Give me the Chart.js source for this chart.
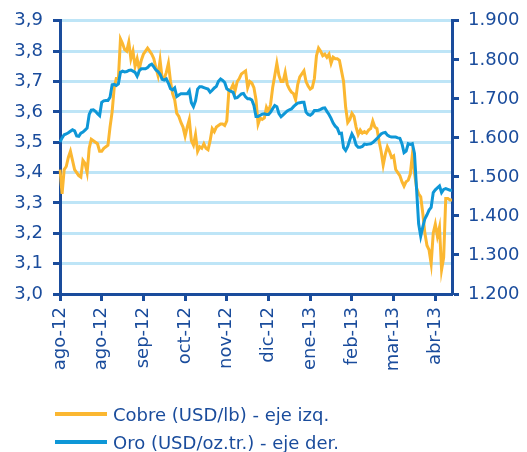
<!DOCTYPE html>
<html>
<head>
<meta charset="utf-8">
<script src="https://cdn.jsdelivr.net/npm/chart.js@4.4.1/dist/chart.umd.min.js"></script>
<style>
  html, body { margin: 0; padding: 0; background: #fff; }
  #wrap { position: relative; width: 527px; height: 452px; }
  #legend { position: absolute; left: 55px; top: 400px; font: 18px 'DejaVu Sans', sans-serif; color: #1A4C9C; }
  .item { display: flex; align-items: center; height: 28px; white-space: nowrap; }
  .swatch { width: 52px; height: 4px; margin-right: 6px; }
</style>
</head>
<body>
<div id="wrap">
  <canvas id="chart" width="527" height="452"></canvas>
  <div id="legend"></div>
</div>
<script>
// ── Data ─────────────────────────────────────────────────────────────────────

const MONTH_LABELS = ['ago-12', 'ago-12', 'sep-12', 'oct-12', 'nov-12', 'dic-12', 'ene-13', 'feb-13', 'mar-13', 'abr-13'];
const LABEL_STEP = 20; // one month label every 20 trading days

// Cobre, USD/lb (left axis)
const COBRE = [
    3.41, 3.33, 3.41, 3.42, 3.45, 3.47, 3.44, 3.41, 3.40, 3.39,
    3.385, 3.44, 3.43, 3.40, 3.48, 3.51, 3.505, 3.50, 3.495, 3.47,
    3.47, 3.48, 3.485, 3.49, 3.55, 3.60, 3.68, 3.71, 3.71, 3.84,
    3.825, 3.805, 3.80, 3.83, 3.775, 3.80, 3.75, 3.775, 3.74, 3.77,
    3.79, 3.80, 3.81, 3.80, 3.79, 3.775, 3.745, 3.72, 3.77, 3.71,
    3.71, 3.73, 3.76, 3.70, 3.66, 3.64, 3.595, 3.585, 3.565, 3.55,
    3.52, 3.55, 3.575, 3.505, 3.49, 3.525, 3.47, 3.485, 3.48, 3.495,
    3.48, 3.475, 3.505, 3.545, 3.535, 3.55, 3.555, 3.56, 3.56, 3.555,
    3.57, 3.67, 3.675, 3.69, 3.67, 3.70, 3.71, 3.725, 3.73, 3.735,
    3.68, 3.70, 3.695, 3.68, 3.64, 3.56, 3.58, 3.575, 3.58, 3.615,
    3.60, 3.625, 3.68, 3.72, 3.76, 3.72, 3.70, 3.70, 3.73, 3.69,
    3.675, 3.665, 3.66, 3.64, 3.69, 3.715, 3.725, 3.735, 3.70, 3.685,
    3.675, 3.68, 3.71, 3.785, 3.81, 3.80, 3.785, 3.79, 3.78, 3.79,
    3.76, 3.78, 3.775, 3.775, 3.77, 3.735, 3.70, 3.615, 3.565, 3.575,
    3.595, 3.585, 3.55, 3.525, 3.54, 3.53, 3.535, 3.53, 3.54, 3.545,
    3.57, 3.55, 3.545, 3.505, 3.47, 3.425, 3.46, 3.485, 3.47, 3.45,
    3.455, 3.41, 3.40, 3.39, 3.37, 3.355, 3.37, 3.375, 3.395, 3.46,
    3.40, 3.35, 3.33, 3.32, 3.265, 3.20, 3.16, 3.145, 3.10, 3.20,
    3.23, 3.19, 3.22, 3.08, 3.12, 3.315, 3.315, 3.31, 3.31
];

// Oro, USD/oz.tr. (right axis)
const ORO = [
    1589, 1600, 1608, 1610, 1613, 1617, 1621, 1618, 1605, 1604,
    1612, 1615, 1620, 1625, 1660, 1671, 1672, 1668, 1662, 1657,
    1691, 1695, 1696, 1696, 1704, 1736, 1737, 1734, 1738, 1768,
    1771, 1769, 1770, 1773, 1774, 1771, 1768, 1758, 1772, 1777,
    1777, 1777, 1780, 1786, 1789, 1782, 1774, 1770, 1763, 1750,
    1748, 1751, 1740, 1726, 1723, 1728, 1706, 1710, 1713, 1713,
    1713, 1713, 1721, 1690, 1680, 1695, 1725, 1731, 1731, 1729,
    1727, 1725, 1717, 1722, 1728, 1732, 1745, 1751, 1747, 1742,
    1726, 1722, 1719, 1717, 1702, 1703, 1708, 1713, 1714, 1705,
    1700, 1700, 1697, 1683, 1655, 1655, 1658, 1661, 1662, 1660,
    1660, 1666, 1675, 1683, 1680, 1662, 1654, 1659, 1664, 1669,
    1672, 1674, 1680, 1685, 1689, 1690, 1691, 1691, 1666, 1660,
    1658, 1662, 1670, 1670, 1671, 1673, 1676, 1677, 1668, 1660,
    1650, 1638, 1630, 1625, 1611, 1612, 1575, 1568, 1578, 1595,
    1610, 1600, 1582, 1576, 1576, 1578, 1584, 1583, 1584, 1585,
    1588, 1593, 1598, 1604, 1610, 1613, 1614, 1607, 1604, 1602,
    1602, 1602, 1600, 1599, 1585, 1562, 1566, 1585, 1583, 1585,
    1560, 1470, 1380, 1348, 1372, 1393, 1403, 1415, 1422, 1460,
    1467, 1472, 1477, 1460, 1468, 1470, 1468, 1466, 1466
];

const SERIES_NAMES = ['Cobre (USD/lb) - eje izq.', 'Oro (USD/oz.tr.) - eje der.'];

// ── Style ────────────────────────────────────────────────────────────────────

const ORANGE = '#FBB731';
const BLUE = '#0E97D7';
const AXIS_BLUE = '#1A4C9C';
const GRID_BLUE = '#BEE5F7';
const FONT = { size: 18, family: "'DejaVu Sans', sans-serif" };

Chart.defaults.font.family = FONT.family;
Chart.defaults.color = AXIS_BLUE;

const labels = COBRE.map((_, i) => (i % LABEL_STEP === 0 ? MONTH_LABELS[i / LABEL_STEP] : ''));

new Chart(document.getElementById('chart'), {
    type: 'line',
    data: {
        labels: labels,
        datasets: [
            {
                label: SERIES_NAMES[0],
                data: COBRE,
                yAxisID: 'yL',
                borderColor: ORANGE,
                borderWidth: 3,
                pointRadius: 0,
                tension: 0,
                order: 1
            },
            {
                label: SERIES_NAMES[1],
                data: ORO,
                yAxisID: 'yR',
                borderColor: BLUE,
                borderWidth: 3,
                pointRadius: 0,
                tension: 0,
                order: 0
            }
        ]
    },
    options: {
        responsive: false,
        animation: false,
        layout: { padding: { top: 20, left: 0, right: 0, bottom: 67 } },
        plugins: { legend: { display: false }, tooltip: { enabled: false } },
        scales: {
            x: {
                offset: false,
                afterBuildTicks: s => { s.ticks = s.ticks.filter(t => t.value % LABEL_STEP === 0); },
                afterFit: s => { s.height = 91; },
                ticks: { autoSkip: false, minRotation: 90, maxRotation: 90, padding: 6, font: FONT, color: AXIS_BLUE },
                grid: { drawOnChartArea: false, drawTicks: true, tickLength: 7, tickWidth: 3, tickColor: AXIS_BLUE },
                border: { display: true, color: AXIS_BLUE, width: 3 }
            },
            yL: {
                position: 'left',
                min: 3.0,
                max: 3.9,
                afterFit: s => { s.width = 60; },
                ticks: {
                    stepSize: 0.1,
                    padding: 10,
                    font: FONT,
                    color: AXIS_BLUE,
                    callback: v => v.toFixed(1).replace('.', ',')
                },
                grid: { color: GRID_BLUE, lineWidth: 3, tickLength: 7, tickWidth: 3, tickColor: AXIS_BLUE },
                border: { display: true, color: AXIS_BLUE, width: 3 }
            },
            yR: {
                position: 'right',
                min: 1200,
                max: 1900,
                afterFit: s => { s.width = 75; },
                ticks: {
                    stepSize: 100,
                    padding: 9,
                    font: FONT,
                    color: AXIS_BLUE,
                    callback: v => (v / 1000).toFixed(3)
                },
                grid: { drawOnChartArea: false, tickLength: 7, tickWidth: 3, tickColor: AXIS_BLUE },
                border: { display: true, color: AXIS_BLUE, width: 3 }
            }
        }
    }
});

// ── Legend ───────────────────────────────────────────────────────────────────

const legend = document.getElementById('legend');
[ORANGE, BLUE].forEach((c, i) => {
    const row = document.createElement('div');
    row.className = 'item';
    const sw = document.createElement('span');
    sw.className = 'swatch';
    sw.style.background = c;
    row.appendChild(sw);
    row.appendChild(document.createTextNode(SERIES_NAMES[i]));
    legend.appendChild(row);
});
</script>
</body>
</html>
